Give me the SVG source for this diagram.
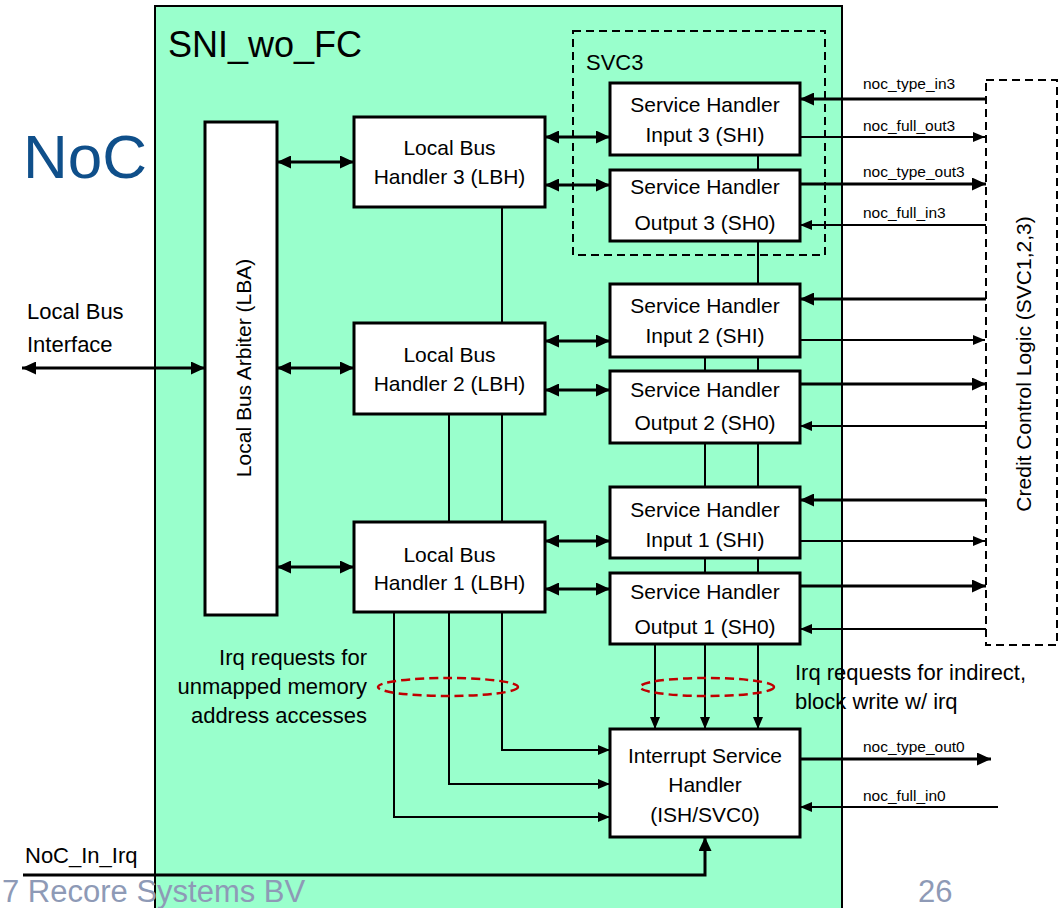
<svg xmlns="http://www.w3.org/2000/svg" width="1058" height="908" viewBox="0 0 1058 908">
<defs>
<style>
text{font-family:"Liberation Sans",Arial,sans-serif;fill:#000}
.box{fill:#fff;stroke:#000;stroke-width:3}
.t21{font-size:21px;text-anchor:middle}
.ann{font-size:22px}
.lbl{font-size:15.5px}
.ln{fill:none;stroke:#000;stroke-width:2}
.lb{fill:none;stroke:#000;stroke-width:3}
.dash{fill:none;stroke:#000;stroke-width:2;stroke-dasharray:8 5}
.red{fill:none;stroke:#C00000;stroke-width:2.5;stroke-dasharray:9 5}
.foot{font-size:31px;fill:#8E9AB6}
</style>
<marker id="ah" viewBox="0 0 12 10" markerUnits="userSpaceOnUse" markerWidth="12" markerHeight="10" refX="12" refY="5" orient="auto-start-reverse"><path d="M0,0 L12,5 L0,10 z" fill="#000"/></marker>
<marker id="ahb" viewBox="0 0 14 13" markerUnits="userSpaceOnUse" markerWidth="14" markerHeight="13" refX="14" refY="6.5" orient="auto-start-reverse"><path d="M0,0 L14,6.5 L0,13 z" fill="#000"/></marker>
</defs>
<rect x="0" y="0" width="1058" height="908" fill="#fff"/>
<g id="sni_wo_fc">
<rect x="155" y="6" width="687" height="920" fill="#99FFCC" stroke="#000" stroke-width="2"/>
<text x="168" y="57" style="font-size:36px">SNI_wo_FC</text>
</g>
<g id="svc3">
<rect x="573" y="31" width="252" height="224" class="dash"/>
<text x="586" y="70" style="font-size:22px">SVC3</text>
</g>
<g id="credit">
<rect x="986" y="80" width="71" height="565" class="dash" style="fill:#fff"/>
<text transform="translate(1031,364) rotate(-90)" class="t21">Credit Control Logic (SVC1,2,3)</text>
</g>
<text x="23" y="178" style="font-size:62px;fill:#0F4F8A">NoC</text>
<g id="connectors">
<line x1="22" y1="368" x2="205" y2="368" class="lb" marker-start="url(#ahb)" marker-end="url(#ahb)"/>
<line x1="277" y1="162" x2="354" y2="162" class="lb" marker-start="url(#ahb)" marker-end="url(#ahb)"/>
<line x1="277" y1="368" x2="354" y2="368" class="lb" marker-start="url(#ahb)" marker-end="url(#ahb)"/>
<line x1="277" y1="567" x2="354" y2="567" class="lb" marker-start="url(#ahb)" marker-end="url(#ahb)"/>
<line x1="545" y1="137" x2="610" y2="137" class="lb" marker-start="url(#ahb)" marker-end="url(#ahb)"/>
<line x1="545" y1="185" x2="610" y2="185" class="lb" marker-start="url(#ahb)" marker-end="url(#ahb)"/>
<line x1="545" y1="341" x2="610" y2="341" class="lb" marker-start="url(#ahb)" marker-end="url(#ahb)"/>
<line x1="545" y1="390" x2="610" y2="390" class="lb" marker-start="url(#ahb)" marker-end="url(#ahb)"/>
<line x1="545" y1="541" x2="610" y2="541" class="lb" marker-start="url(#ahb)" marker-end="url(#ahb)"/>
<line x1="545" y1="589" x2="610" y2="589" class="lb" marker-start="url(#ahb)" marker-end="url(#ahb)"/>
<path d="M502,207 V323 M449,414 V522 M502,414 V522" class="ln"/>
<path d="M758,155 V170 M758,241 V284 M758,357 V371 M758,443 V487 M758,558 V573 M705,357 V371 M705,443 V487 M705,558 V573" class="ln"/>
<line x1="655" y1="644" x2="655" y2="729" class="ln" marker-end="url(#ah)"/>
<line x1="705" y1="644" x2="705" y2="729" class="ln" marker-end="url(#ah)"/>
<line x1="758" y1="644" x2="758" y2="729" class="ln" marker-end="url(#ah)"/>
<path d="M502,612 V750 H610" class="ln" marker-end="url(#ah)"/>
<path d="M449,612 V784 H610" class="ln" marker-end="url(#ah)"/>
<path d="M394,612 V817 H610" class="ln" marker-end="url(#ah)"/>
<path d="M23,875 H705 V837" class="lb" marker-end="url(#ahb)"/>
<line x1="986" y1="99" x2="800" y2="99" class="lb" marker-end="url(#ahb)"/>
<line x1="800" y1="137" x2="985" y2="137" class="ln" marker-end="url(#ah)"/>
<line x1="800" y1="184" x2="986" y2="184" class="lb" marker-end="url(#ahb)"/>
<line x1="986" y1="225" x2="800" y2="225" class="ln" marker-end="url(#ah)"/>
<line x1="986" y1="299" x2="800" y2="299" class="lb" marker-end="url(#ahb)"/>
<line x1="800" y1="340" x2="985" y2="340" class="ln" marker-end="url(#ah)"/>
<line x1="800" y1="384" x2="986" y2="384" class="lb" marker-end="url(#ahb)"/>
<line x1="986" y1="426" x2="800" y2="426" class="ln" marker-end="url(#ah)"/>
<line x1="986" y1="500" x2="800" y2="500" class="lb" marker-end="url(#ahb)"/>
<line x1="800" y1="541" x2="985" y2="541" class="ln" marker-end="url(#ah)"/>
<line x1="800" y1="586" x2="986" y2="586" class="lb" marker-end="url(#ahb)"/>
<line x1="986" y1="629" x2="800" y2="629" class="ln" marker-end="url(#ah)"/>
<line x1="800" y1="759" x2="991" y2="759" class="lb" marker-end="url(#ahb)"/>
<line x1="998" y1="807" x2="800" y2="807" class="ln" marker-end="url(#ah)"/>
<text x="863" y="89" class="lbl">noc_type_in3</text>
<text x="863" y="131" class="lbl">noc_full_out3</text>
<text x="863" y="177" class="lbl">noc_type_out3</text>
<text x="863" y="218" class="lbl">noc_full_in3</text>
<text x="863" y="752" class="lbl">noc_type_out0</text>
<text x="863" y="801" class="lbl">noc_full_in0</text>
</g>
<g id="lba">
<rect x="205" y="122" width="72" height="493" class="box"/>
<text transform="translate(251,368) rotate(-90)" class="t21">Local Bus Arbiter (LBA)</text>
</g>
<g id="lbh3">
<rect x="354" y="117" width="191" height="90" class="box"/>
<text x="449.5" y="155" class="t21">Local Bus</text>
<text x="449.5" y="184" class="t21">Handler 3 (LBH)</text>
</g>
<g id="lbh2">
<rect x="354" y="323" width="191" height="91" class="box"/>
<text x="449.5" y="362" class="t21">Local Bus</text>
<text x="449.5" y="391" class="t21">Handler 2 (LBH)</text>
</g>
<g id="lbh1">
<rect x="354" y="522" width="191" height="90" class="box"/>
<text x="449.5" y="562" class="t21">Local Bus</text>
<text x="449.5" y="590" class="t21">Handler 1 (LBH)</text>
</g>
<g id="shi3">
<rect x="610" y="83" width="190" height="72" class="box"/>
<text x="705" y="112" class="t21">Service Handler</text>
<text x="705" y="142" class="t21">Input 3 (SHI)</text>
</g>
<g id="sho3">
<rect x="610" y="170" width="190" height="71" class="box"/>
<text x="705" y="194" class="t21">Service Handler</text>
<text x="705" y="230" class="t21">Output 3 (SH0)</text>
</g>
<g id="shi2">
<rect x="610" y="284" width="190" height="73" class="box"/>
<text x="705" y="313" class="t21">Service Handler</text>
<text x="705" y="343" class="t21">Input 2 (SHI)</text>
</g>
<g id="sho2">
<rect x="610" y="371" width="190" height="72" class="box"/>
<text x="705" y="397" class="t21">Service Handler</text>
<text x="705" y="430" class="t21">Output 2 (SH0)</text>
</g>
<g id="shi1">
<rect x="610" y="487" width="190" height="71" class="box"/>
<text x="705" y="517" class="t21">Service Handler</text>
<text x="705" y="547" class="t21">Input 1 (SHI)</text>
</g>
<g id="sho1">
<rect x="610" y="573" width="190" height="71" class="box"/>
<text x="705" y="599" class="t21">Service Handler</text>
<text x="705" y="634" class="t21">Output 1 (SH0)</text>
</g>
<g id="ish">
<rect x="610" y="729" width="190" height="108" class="box"/>
<text x="705" y="763" class="t21">Interrupt Service</text>
<text x="705" y="792" class="t21">Handler</text>
<text x="705" y="822" class="t21">(ISH/SVC0)</text>
</g>
<g id="annotations">
<text x="27" y="319" style="font-size:22px">Local Bus</text>
<text x="27" y="352" style="font-size:22px">Interface</text>
<text x="25" y="863" style="font-size:22px">NoC_In_Irq</text>
<text x="367" y="665" class="ann" text-anchor="end">Irq requests for</text>
<text x="367" y="694" class="ann" text-anchor="end">unmapped memory</text>
<text x="367" y="723" class="ann" text-anchor="end">address accesses</text>
<text x="795" y="680" class="ann">Irq requests for indirect,</text>
<text x="795" y="709" class="ann">block write w/ irq</text>
<ellipse cx="448" cy="687" rx="70" ry="9" class="red"/>
<ellipse cx="707" cy="687" rx="67" ry="9" class="red"/>
</g>
<text x="2" y="902" class="foot">7 Recore Systems BV</text>
<text x="918" y="902" class="foot">26</text>
</svg>
